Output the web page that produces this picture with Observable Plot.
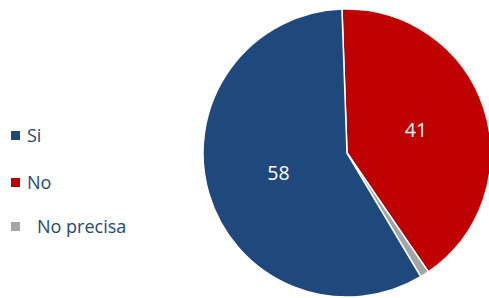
<!DOCTYPE html>
<html>
<head>
<meta charset="utf-8">
<script src="https://cdn.jsdelivr.net/npm/d3@7"></script>
<script src="https://cdn.jsdelivr.net/npm/@observablehq/plot@0.6"></script>
<style>
  body { margin: 0; background: #fff; }
  #wrap { position: relative; width: 489px; height: 298px; overflow: hidden; font-family: "Open Sans", sans-serif; }
  #wrap svg { position: absolute; left: 0; top: 0; }
  .leg { position: absolute; left: 11px; height: 22px; display: flex; align-items: center; font-size: 18px; color: #264778; }
  .leg .sw { width: 9px; height: 9px; flex: none; }
</style>
</head>
<body>
<div id="wrap"></div>
<script>
// Data (clockwise from 12 o'clock)
const categories = ["No", "No precisa", "Si"];
const values = [41, 1, 58];
const colors = ["#C00000", "#A5A5A5", "#1F497D"];
// Legend order and labels
const legendCategories = ["Si", "No", "No precisa"];

const data = categories.map((c, i) => ({category: c, value: values[i]}));
const color = d3.scaleOrdinal(categories, colors);

const startOffset = -0.035; // radians, slight rotation of first slice
const arcs = d3.pie().sort(null).value(d => d.value)
  .startAngle(startOffset).endAngle(2 * Math.PI + startOffset)(data);

const labelData = arcs.filter(a => a.data.value >= 5).map(a => {
  const mid = (a.startAngle + a.endAngle) / 2;
  return {x: 0.5 * Math.sin(mid), y: 0.5 * Math.cos(mid), text: String(a.data.value)};
});

function pieMark(index, scales) {
  const {x, y} = scales;
  const cx = x(0), cy = y(0), r = x(1) - x(0);
  const arc = d3.arc().innerRadius(0).outerRadius(r);
  const g = d3.create("svg:g").attr("transform", `translate(${cx},${cy})`);
  g.selectAll("path").data(arcs).join("path")
    .attr("d", arc)
    .attr("fill", d => color(d.data.category))
    .attr("stroke", "#fff")
    .attr("stroke-width", 1.5)
    .attr("stroke-linejoin", "round");
  return g.node();
}

const chart = Plot.plot({
  width: 489,
  height: 298,
  x: {domain: [-1, 1], range: [203, 491], axis: null},
  y: {domain: [-1, 1], range: [297, 9], axis: null},
  style: {background: "transparent", fontFamily: "'Open Sans', sans-serif"},
  marks: [
    pieMark,
    Plot.text(labelData, {x: "x", y: "y", text: "text", fill: "#fff", fontSize: 19.5})
  ]
});

const wrap = document.getElementById("wrap");
wrap.appendChild(chart);

const legendTops = [124, 171, 215];
const legendGaps = [7, 7, 17];
legendCategories.forEach((c, i) => {
  const row = document.createElement("div");
  row.className = "leg";
  row.style.top = legendTops[i] + "px";
  const sw = document.createElement("span");
  sw.className = "sw";
  sw.style.background = color(c);
  sw.style.marginRight = legendGaps[i] + "px";
  const t = document.createElement("span");
  t.textContent = c;
  row.appendChild(sw);
  row.appendChild(t);
  wrap.appendChild(row);
});
</script>
</body>
</html>
